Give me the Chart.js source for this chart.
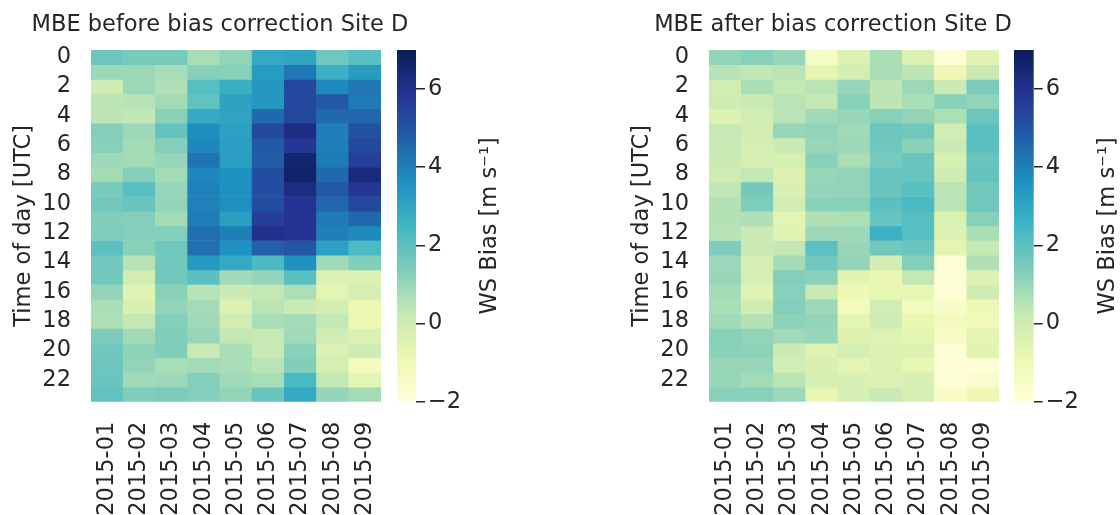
<!DOCTYPE html>
<html lang="en">
<head>
<meta charset="UTF-8">
<title>MBE Site D</title>
<script src="https://cdn.jsdelivr.net/npm/chart.js"></script>
<style>
  body { margin: 0; background: #fff; }
  #wrap { position: relative; width: 1120px; height: 515px; overflow: hidden; }
  canvas { position: absolute; top: 0; }
</style>
</head>
<body>
<div id="wrap">
  <canvas id="heatBefore" width="430" height="515" style="left:0"></canvas>
  <canvas id="barBefore" width="125" height="515" style="left:390px"></canvas>
  <canvas id="heatAfter" width="430" height="515" style="left:618px"></canvas>
  <canvas id="barAfter" width="113" height="515" style="left:1007px"></canvas>
</div>
<script>
// months on the x axis, hours 0..23 down the y axis
const months = ['2015-01', '2015-02', '2015-03', '2015-04', '2015-05', '2015-06', '2015-07', '2015-08', '2015-09'];
const hourTicks = [0, 2, 4, 6, 8, 10, 12, 14, 16, 18, 20, 22];
const cbarTicks = [-2, 0, 2, 4, 6];
const vmin = -2, vmax = 7;

// wind speed mean bias [m/s], one row per hour, one column per month
const biasBefore = [
  [1.7, 1.5, 1.5, 0.75, 1.1, 2.9, 3.05, 1.65, 2.1],
  [0.95, 0.95, 0.75, 1.25, 1.25, 3.3, 4.2, 2.7, 3.3],
  [0.0, 0.95, 0.6, 2.1, 2.7, 3.4, 5.4, 3.8, 4.2],
  [0.4, 0.5, 0.8, 1.9, 3.1, 3.4, 5.3, 4.9, 4.1],
  [0.4, 0.35, 1.2, 2.85, 3.05, 4.5, 5.4, 4.5, 4.55],
  [1.3, 0.9, 1.85, 3.7, 3.15, 5.3, 6.2, 4.0, 5.1],
  [1.25, 0.8, 1.3, 3.85, 3.2, 4.9, 5.8, 4.05, 5.3],
  [0.9, 0.8, 1.0, 4.3, 3.2, 4.75, 6.55, 4.1, 5.6],
  [0.8, 1.3, 0.8, 3.85, 3.6, 5.2, 6.7, 4.5, 6.3],
  [1.5, 2.1, 1.0, 3.95, 3.6, 5.2, 6.2, 4.9, 5.8],
  [1.6, 1.8, 1.05, 3.95, 3.65, 5.2, 5.9, 4.6, 5.35],
  [1.35, 1.3, 0.8, 4.05, 3.2, 5.6, 5.9, 4.1, 4.55],
  [1.4, 1.3, 1.3, 4.35, 4.0, 6.05, 5.9, 4.0, 3.75],
  [2.0, 1.25, 1.65, 4.35, 3.6, 4.7, 4.95, 3.15, 2.3],
  [1.6, 0.5, 1.6, 3.35, 2.9, 2.3, 3.6, 0.85, 1.35],
  [1.6, -0.05, 1.6, 2.0, 0.85, 1.05, 2.05, -0.4, -0.35],
  [1.05, -0.5, 1.2, 0.5, 0.1, 0.3, 0.65, -0.6, -0.15],
  [0.7, -0.3, 1.1, 0.8, -0.4, 0.45, 0.15, -0.1, -0.85],
  [0.65, 0.3, 1.3, 0.85, -0.05, 0.7, 0.8, 0.3, -0.9],
  [1.4, 0.8, 1.35, 1.0, 0.3, 0.25, 0.85, -0.05, -0.35],
  [1.65, 1.15, 1.35, 0.2, 0.7, 0.2, 1.2, -0.35, 0.0],
  [1.7, 1.1, 0.75, 0.8, 0.75, 0.45, 1.35, -0.15, -1.3],
  [1.75, 0.85, 0.9, 1.3, 0.85, 0.75, 2.35, 0.3, -0.6],
  [1.9, 1.4, 1.45, 1.3, 1.05, 1.75, 2.9, 1.05, 0.8]
];

const biasAfter = [
  [1.05, 1.25, 1.0, -1.4, -0.4, 0.7, -0.35, -1.85, -0.5],
  [0.5, 0.35, 0.45, -0.65, -0.1, 0.7, 0.4, -1.0, 0.2],
  [-0.05, 0.7, 0.3, 0.45, 1.0, 0.4, 0.95, 0.1, 1.45],
  [0.0, 0.2, 0.45, 0.3, 1.25, 0.4, 0.7, 1.2, 1.1],
  [-0.4, -0.05, 0.45, 0.85, 1.0, 1.25, 1.05, 0.65, 1.7],
  [0.25, -0.05, 1.0, 1.1, 0.85, 1.7, 1.65, -0.05, 2.0],
  [0.25, -0.15, 0.2, 1.0, 0.9, 1.65, 1.2, 0.1, 2.0],
  [0.1, -0.2, -0.2, 1.2, 0.7, 1.5, 1.75, -0.2, 1.8],
  [0.0, 0.3, -0.4, 1.0, 1.1, 1.8, 1.8, 0.05, 1.85],
  [0.35, 1.55, -0.25, 1.05, 1.1, 1.75, 2.05, 0.45, 1.6],
  [0.55, 1.4, -0.05, 1.2, 1.2, 2.0, 2.3, 0.45, 1.65],
  [0.55, 0.6, -0.6, 0.6, 0.65, 1.8, 2.1, -0.35, 1.25],
  [0.5, 0.15, -0.5, 0.9, 0.9, 2.65, 2.1, -0.4, 0.7],
  [1.4, 0.15, 0.3, 2.0, 1.0, 1.6, 1.75, -0.6, 0.25],
  [0.9, -0.15, 0.8, 1.65, 1.05, -0.1, 1.3, -1.9, 0.6],
  [1.0, -0.15, 1.3, 1.2, -0.55, -0.8, 0.3, -1.9, -0.4],
  [0.8, -0.5, 1.25, 0.15, -0.95, -0.7, -0.7, -1.9, 0.0],
  [0.7, 0.0, 1.3, 0.9, -1.25, -0.05, -1.2, -1.55, -0.95],
  [0.85, 0.55, 1.15, 1.05, -0.6, 0.05, -0.8, -1.2, -1.05],
  [1.25, 1.1, 0.85, 1.0, -0.4, -0.45, -0.6, -1.5, -0.6],
  [1.2, 1.15, 0.1, -0.45, -0.15, -0.4, -0.4, -1.9, -0.55],
  [1.0, 1.0, -0.05, -0.3, -0.6, -0.4, -0.7, -1.9, -1.9],
  [1.0, 0.8, 0.45, -0.2, -0.25, -0.4, -0.25, -1.9, -1.65],
  [1.25, 1.25, 0.9, -0.7, -0.2, 0.2, -0.2, -1.55, -0.95]
];

// YlGnBu colour map
const ylgnbu = ['#ffffd9', '#edf8b1', '#c7e9b4', '#7fcdbb', '#41b6c4', '#1d91c0', '#225ea8', '#253494', '#081d58'];

const ink = '#262626';
const fontSize = 22.5;
Chart.defaults.font.family = '"DejaVu Sans", sans-serif';
Chart.defaults.font.size = fontSize;
Chart.defaults.color = ink;

function hexRgb(h) {
  return [1, 3, 5].map(i => parseInt(h.slice(i, i + 2), 16));
}

function cellColor(v) {
  let t = (v - vmin) / (vmax - vmin);
  t = Math.min(1, Math.max(0, t)) * (ylgnbu.length - 1);
  const i = Math.min(Math.floor(t), ylgnbu.length - 2);
  const f = t - i;
  const a = hexRgb(ylgnbu[i]), b = hexRgb(ylgnbu[i + 1]);
  const c = a.map((x, k) => Math.round(x + (b[k] - x) * f));
  return `rgb(${c[0]},${c[1]},${c[2]})`;
}

// panel title above the heatmap and rotated caption beside the colour bar
const panelText = {
  id: 'panelText',
  afterDraw(chart, args, opts) {
    const { ctx, chartArea: a } = chart;
    ctx.save();
    ctx.fillStyle = ink;
    ctx.font = `${fontSize}px "DejaVu Sans", sans-serif`;
    ctx.textAlign = 'center';
    if (opts.title) {
      ctx.textBaseline = 'alphabetic';
      ctx.fillText(opts.title, (a.left + a.right) / 2 + opts.shift, 31);
    }
    if (opts.caption) {
      ctx.translate(a.right + 74, (a.top + a.bottom) / 2);
      ctx.rotate(-Math.PI / 2);
      ctx.textBaseline = 'middle';
      ctx.fillText(opts.caption, 0, 0);
    }
    ctx.restore();
  }
};

function heatmap(id, values, title, shift) {
  // one floating-bar dataset per hour, one bar per month
  const datasets = values.map((row, h) => ({
    data: row.map(() => [h, h + 1]),
    backgroundColor: row.map(cellColor),
    borderWidth: 0,
    grouped: false,
    barPercentage: 1,
    categoryPercentage: 1
  }));

  new Chart(document.getElementById(id), {
    type: 'bar',
    data: { labels: months, datasets: datasets },
    options: {
      responsive: false,
      animation: false,
      events: [],
      layout: { padding: { top: 50, right: 49, left: 0, bottom: 0 } },
      plugins: {
        legend: { display: false },
        tooltip: { enabled: false },
        panelText: { title: title, shift: shift }
      },
      scales: {
        x: {
          grid: { display: false, drawTicks: false },
          border: { display: false },
          ticks: { autoSkip: false, minRotation: 90, maxRotation: 90, padding: 20 },
          afterFit: s => { s.height = 113.3; }
        },
        y: {
          min: 0,
          max: 24,
          reverse: true,
          grid: { display: false, drawTicks: false },
          border: { display: false },
          afterBuildTicks: s => { s.ticks = hourTicks.map(h => ({ value: h + 0.5 })); },
          ticks: { padding: 20, callback: v => String(v - 0.5) },
          title: {
            display: true,
            text: 'Time of day [UTC]',
            font: { size: fontSize, lineHeight: 1.2 },
            padding: { top: 11, bottom: 0 }
          },
          afterFit: s => { s.width = 91; }
        }
      }
    },
    plugins: [panelText]
  });
}

function colorbar(id, axisWidth) {
  new Chart(document.getElementById(id), {
    type: 'bar',
    data: {
      labels: [''],
      datasets: [{
        data: [[vmin, vmax]],
        borderWidth: 0,
        barPercentage: 1,
        categoryPercentage: 1,
        backgroundColor: ctx => {
          const c = ctx.chart;
          if (!c.chartArea) return ylgnbu[4];
          const y = c.scales.y;
          const g = c.ctx.createLinearGradient(0, y.getPixelForValue(vmin), 0, y.getPixelForValue(vmax));
          ylgnbu.forEach((col, i) => g.addColorStop(i / (ylgnbu.length - 1), col));
          return g;
        }
      }]
    },
    options: {
      responsive: false,
      animation: false,
      events: [],
      layout: { padding: { top: 50, bottom: 113.3, left: 7, right: 0 } },
      plugins: {
        legend: { display: false },
        tooltip: { enabled: false },
        panelText: { caption: 'WS Bias [m s\u207B\u00B9]' }
      },
      scales: {
        x: { display: false },
        y: {
          position: 'right',
          min: vmin,
          max: vmax,
          grid: { drawOnChartArea: false, drawTicks: true, tickLength: 9, color: ink, lineWidth: 1.5 },
          border: { display: false },
          afterBuildTicks: s => { s.ticks = cbarTicks.map(v => ({ value: v })); },
          ticks: { padding: 3, callback: v => (v < 0 ? '\u2212' + Math.abs(v) : String(v)) },
          afterFit: s => { s.width = axisWidth; }
        }
      }
    },
    plugins: [panelText]
  });
}

heatmap('heatBefore', biasBefore, 'MBE before bias correction Site D', -16);
colorbar('barBefore', 99);
heatmap('heatAfter', biasAfter, 'MBE after bias correction Site D', -21);
colorbar('barAfter', 86.3);
</script>
</body>
</html>
